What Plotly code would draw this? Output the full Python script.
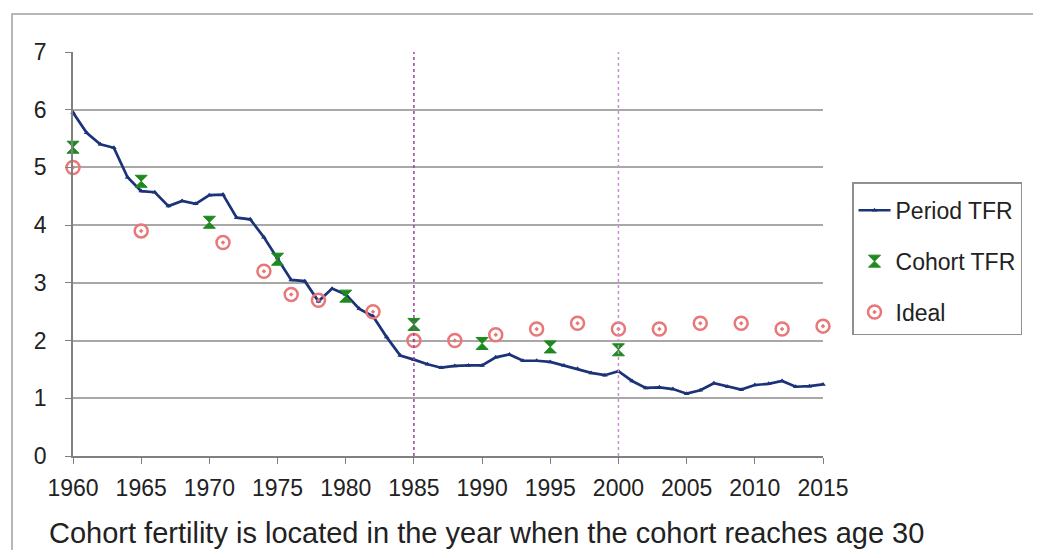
import plotly.graph_objects as go

# period total fertility rate, one value per year
years = list(range(1960, 2016))
period_tfr = [
    5.95, 5.60, 5.40, 5.34, 4.83, 4.59, 4.57, 4.33, 4.42, 4.37,
    4.52, 4.53, 4.13, 4.10, 3.79, 3.43, 3.05, 3.03, 2.68, 2.90,
    2.80, 2.55, 2.42, 2.06, 1.74, 1.67, 1.59, 1.53, 1.56, 1.57,
    1.57, 1.71, 1.76, 1.65, 1.65, 1.63, 1.57, 1.51, 1.44, 1.40,
    1.47, 1.30, 1.18, 1.19, 1.16, 1.08, 1.14, 1.26, 1.20, 1.15,
    1.23, 1.25, 1.30, 1.20, 1.21, 1.24,
]

# cohort TFR, placed in the year the cohort reaches age 30
cohort_years = [1960, 1965, 1970, 1975, 1980, 1985, 1990, 1995, 2000]
cohort_tfr = [5.35, 4.76, 4.05, 3.41, 2.77, 2.28, 1.95, 1.89, 1.84]

ideal_years = [1960, 1965, 1971, 1974, 1976, 1978, 1982, 1985, 1988, 1991,
               1994, 1997, 2000, 2003, 2006, 2009, 2012, 2015]
ideal = [5.0, 3.9, 3.7, 3.2, 2.8, 2.7, 2.5, 2.0, 2.0, 2.1,
         2.2, 2.3, 2.2, 2.2, 2.3, 2.3, 2.2, 2.25]

x_ticks = list(range(1960, 2016, 5))
y_ticks = list(range(0, 8))

font = "Liberation Sans, Arial, sans-serif"

fig = go.Figure()
fig.add_trace(go.Scatter(
    x=years, y=period_tfr, name="Period TFR", mode="lines+markers",
    line=dict(color="#1b3378", width=2.7),
    marker=dict(symbol="triangle-up", size=5, color="#1b3378"),
    legendgroup="a", cliponaxis=False,
))
fig.add_trace(go.Scatter(
    x=cohort_years, y=cohort_tfr, name="Cohort TFR", mode="markers",
    marker=dict(symbol="hourglass", size=12, color="#1e8a1e",
                line=dict(color="#1e8a1e", width=1)),
    legendgroup="b", cliponaxis=False,
))
fig.add_trace(go.Scatter(
    x=ideal_years, y=ideal, name="Ideal", mode="markers",
    marker=dict(symbol="circle-open-dot", size=13, color="#e87878",
                line=dict(color="#e87878", width=2.5)),
    legendgroup="c", cliponaxis=False,
))

fig.add_vline(x=1985, line_color="#a040a0", line_dash="dot", line_width=1.5)
fig.add_vline(x=2000, line_color="#c890d0", line_dash="dot", line_width=1.5)

# outer frame around the whole chart (bottom edge runs off the picture)
fig.add_shape(type="rect", xref="paper", yref="paper",
              x0=-0.0813, x1=1.2813, y0=-0.4, y1=1.094,
              line=dict(color="#a0a0a0", width=1.5))

fig.add_annotation(
    text="Cohort fertility is located in the year when the cohort reaches age 30",
    xref="paper", yref="paper", x=-0.035, y=-0.19,
    xanchor="left", yanchor="middle", showarrow=False,
    font=dict(size=29, color="#222222", family=font),
)

# the page body adds an 8px offset, so the figure is drawn a bit smaller
fig.update_layout(
    width=1033, height=542,
    margin=dict(l=65, r=218, t=44, b=94),
    paper_bgcolor="white", plot_bgcolor="white",
    font=dict(family=font, size=23, color="#222222"),
    legend=dict(
        x=1.0387, y=0.678, xanchor="left", yanchor="top",
        bordercolor="#909090", borderwidth=1.5,
        font=dict(size=23, color="#222222"),
        tracegroupgap=18, itemwidth=32,
        # a little extra room above the first entry
        title=dict(text=" ", font=dict(size=4)),
    ),
)
fig.update_xaxes(
    range=[1960, 2015], tickvals=x_ticks, showgrid=False,
    showline=True, linecolor="#808080", linewidth=1.5,
    ticks="outside", ticklen=6, tickcolor="#808080",
    ticklabelstandoff=5, zeroline=False,
)
fig.update_yaxes(
    range=[0, 7], tickvals=y_ticks, showgrid=True,
    gridcolor="#a8a8a8", gridwidth=1.5,
    showline=True, linecolor="#808080", linewidth=1.5,
    ticks="outside", ticklen=6, tickcolor="#808080",
    ticklabelstandoff=14, zeroline=False,
)

fig.write_html("out.html")
